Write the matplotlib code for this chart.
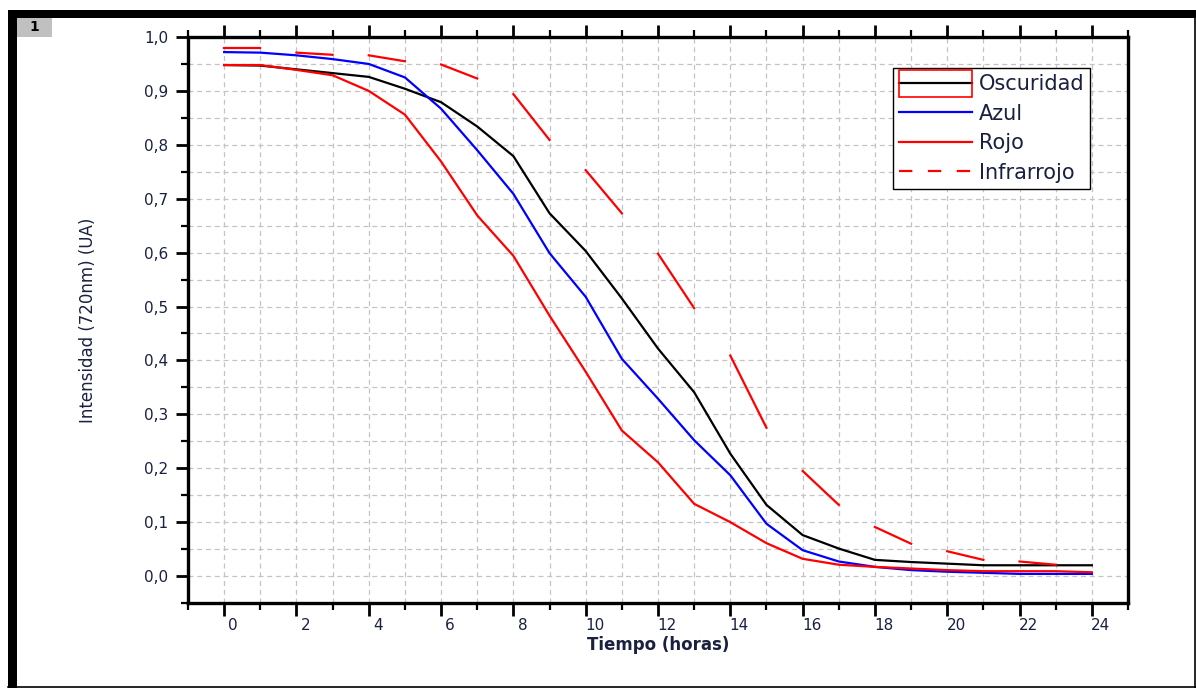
import matplotlib
matplotlib.use('Agg')
import matplotlib.pyplot as plt
import matplotlib.transforms as mtransforms
from matplotlib.patches import Rectangle
from matplotlib.lines import Line2D
from matplotlib.ticker import MultipleLocator, FuncFormatter

# datos
horas = list(range(25))
oscuridad = [0.948, 0.947, 0.940, 0.933, 0.926, 0.904, 0.879, 0.834, 0.779, 0.673, 0.603, 0.515, 0.422,
             0.341, 0.227, 0.132, 0.076, 0.051, 0.030, 0.026, 0.023, 0.020, 0.020, 0.020, 0.020]
azul = [0.972, 0.971, 0.966, 0.959, 0.950, 0.925, 0.867, 0.790, 0.709, 0.599, 0.518, 0.403, 0.329,
        0.252, 0.187, 0.097, 0.048, 0.027, 0.017, 0.011, 0.008, 0.006, 0.004, 0.004, 0.004]
rojo = [0.948, 0.948, 0.939, 0.929, 0.900, 0.856, 0.769, 0.669, 0.594, 0.483, 0.379, 0.270, 0.211,
        0.134, 0.100, 0.061, 0.032, 0.021, 0.017, 0.014, 0.011, 0.009, 0.009, 0.009, 0.007]
infrarrojo = [0.979, 0.979, 0.971, 0.967, 0.966, 0.955, 0.949, 0.923, 0.894, 0.809, 0.753, 0.673, 0.598,
              0.497, 0.409, 0.275, 0.195, 0.132, 0.091, 0.060, 0.046, 0.030, 0.027, 0.021, 0.018]
etiquetas = ['Oscuridad', 'Azul', 'Rojo', 'Infrarrojo']

txt_color = '#1a2040'
plt.rcParams['font.family'] = ['DejaVu Sans']

fig = plt.figure(figsize=(11.96, 6.88), dpi=100)
ax = fig.add_axes([188 / 1196, 1 - 603 / 688, 940 / 1196, 566 / 688])

# marco exterior
fig.patches.append(Rectangle((8 / 1196, 1 - 18 / 688), 1 - 8 / 1196, 8 / 688, transform=fig.transFigure,
                             facecolor='black', edgecolor='none'))
fig.patches.append(Rectangle((8 / 1196, 0), 9 / 1196, 1 - 10 / 688, transform=fig.transFigure,
                             facecolor='black', edgecolor='none'))
fig.patches.append(Rectangle((17 / 1196, 1 - 37 / 688), 35 / 1196, 19 / 688, transform=fig.transFigure,
                             facecolor='#c0c0c0', edgecolor='none'))
fig.lines.append(Line2D([1194.5 / 1196, 1194.5 / 1196], [0, 1 - 18 / 688], transform=fig.transFigure,
                        color='black', lw=1.2))
fig.lines.append(Line2D([8 / 1196, 1], [0.7 / 688, 0.7 / 688], transform=fig.transFigure,
                        color='black', lw=1.2))
fig.text(34 / 1196, 1 - 27 / 688, '1', ha='center', va='center', fontsize=10, fontweight='bold')

lw = 1.6
ax.plot(horas, oscuridad, color='black', lw=lw, zorder=3)
ax.plot(horas, azul, color='#0000ff', lw=lw, zorder=3)
ax.plot(horas, rojo, color='#ff0000', lw=lw, zorder=4)
# infrarrojo: trazos de una hora con huecos de una hora
for i in range(0, len(horas) - 1, 2):
    ax.plot(horas[i:i + 2], infrarrojo[i:i + 2], color='#ff0000', lw=lw, zorder=4)

ax.set_xlim(-1, 25)
ax.set_ylim(-0.05, 1.0)
ax.xaxis.set_major_locator(MultipleLocator(2))
ax.xaxis.set_minor_locator(MultipleLocator(1))
ax.yaxis.set_major_locator(MultipleLocator(0.1))
ax.yaxis.set_minor_locator(MultipleLocator(0.05))
ax.yaxis.set_major_formatter(FuncFormatter(lambda v, p: ('%.1f' % v).replace('.', ',')))

ax.grid(which='both', color='#c4c4c4', linestyle=(0, (4, 3)), lw=0.9, zorder=0)

for s in ax.spines.values():
    s.set_linewidth(2.4)
ax.tick_params(which='both', direction='out', top=True, right=False, labeltop=False,
               width=2, labelsize=11, labelcolor=txt_color)
ax.tick_params(which='major', length=9, pad=5)
ax.tick_params(axis='x', which='major', pad=2)
ax.tick_params(which='minor', length=5, width=1.6)

# etiquetas x ligeramente desplazadas a la derecha
offset = mtransforms.ScaledTranslation(9 / 100, 0, fig.dpi_scale_trans)
for lab in ax.get_xticklabels():
    lab.set_transform(lab.get_transform() + offset)

ax.set_xlabel('Tiempo (horas)', fontsize=12, fontweight='bold', color=txt_color, labelpad=2)
ax.set_ylabel('Intensidad (720nm) (UA)', fontsize=12, color=txt_color, labelpad=34)

handles = [Line2D([], [], color='black', lw=lw),
           Line2D([], [], color='#0000ff', lw=lw),
           Line2D([], [], color='#ff0000', lw=lw),
           Line2D([], [], color='#ff0000', lw=lw, linestyle=(0, (6, 7)))]
leg = ax.legend(handles, etiquetas, loc='upper right', bbox_to_anchor=(0.96, 0.945), borderaxespad=0,
                fontsize=15, frameon=True, fancybox=False, framealpha=1, edgecolor='black',
                handlelength=3.5, handletextpad=0.3, labelspacing=0.45, borderpad=0.3)
leg.get_frame().set_linewidth(1.0)
for t in leg.get_texts():
    t.set_color(txt_color)

# recuadro rojo alrededor del primer simbolo de la leyenda
fig.canvas.draw()
r = fig.canvas.get_renderer()
bb = leg.get_lines()[0].get_window_extent(r)
cy = (bb.y0 + bb.y1) / 2
inv = fig.transFigure.inverted()
(x0, y0) = inv.transform((bb.x0, cy - 13.5))
(x1, y1) = inv.transform((bb.x1, cy + 13.5))
fig.patches.append(Rectangle((x0, y0), x1 - x0, y1 - y0, transform=fig.transFigure,
                             facecolor='none', edgecolor='#ff0000', lw=1.2, zorder=10))

fig.savefig('out.png', dpi=100)
